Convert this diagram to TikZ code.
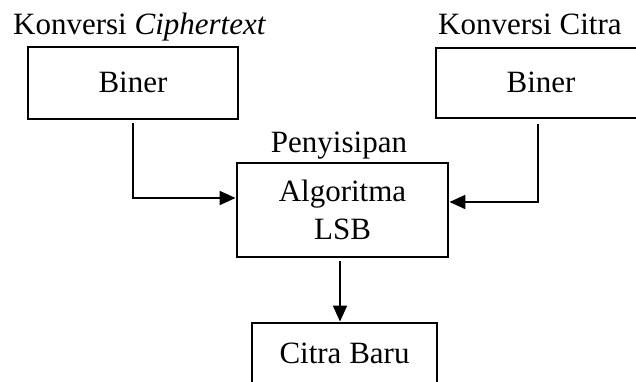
\documentclass[tikz,border=0pt]{standalone}
\usepackage{fontspec}
\setmainfont{Liberation Serif}
\usetikzlibrary{arrows.meta}

\tikzset{
  box/.style={draw, line width=2.9pt, rectangle, inner sep=0pt, align=center,
    font=\fontsize{31}{38}\selectfont},
  label/.style={inner sep=0pt, font=\fontsize{31}{38}\selectfont},
  link/.style={line width=2pt, -{Triangle[length=16pt, width=14pt]}}
}

\begin{document}
\begin{tikzpicture}[x=1pt, y=-1pt]
  \clip (0,0) rectangle (636,381);
  \fill[white] (0,0) rectangle (636,381);

  % section titles
  \node[label, anchor=base west] (t1) at (13,34) {Konversi \textit{Ciphertext}};
  \node[label, anchor=base west] (t2) at (438,34) {Konversi Citra};
  \node[label, anchor=base] (t3) at (339,152) {Penyisipan};

  % process boxes
  \node[box, minimum width=210pt, minimum height=72pt, text depth=2pt] (b1) at (133,83) {Biner};
  \node[box, minimum width=210pt, minimum height=70pt, text depth=2pt] (b2) at (541,83) {Biner};
  \node[box, minimum width=211pt, minimum height=94pt] (lsb) at (342.5,210) {Algoritma\\LSB};
  \node[box, minimum width=185pt, minimum height=70pt, text depth=10pt] (out) at (344.5,358) {Citra Baru};

  % connector end points
  \coordinate (s1) at (133,123);
  \coordinate (s2) at (538,124);
  \coordinate (inl) at (0,198);
  \coordinate (inr) at (0,202);
  \coordinate (s3) at (340,261);

  \draw[link] (s1) |- (lsb.west |- inl);
  \draw[link] (s2) |- (lsb.east |- inr);
  \draw[link] (s3) -- (s3 |- out.north);
\end{tikzpicture}
\end{document}
